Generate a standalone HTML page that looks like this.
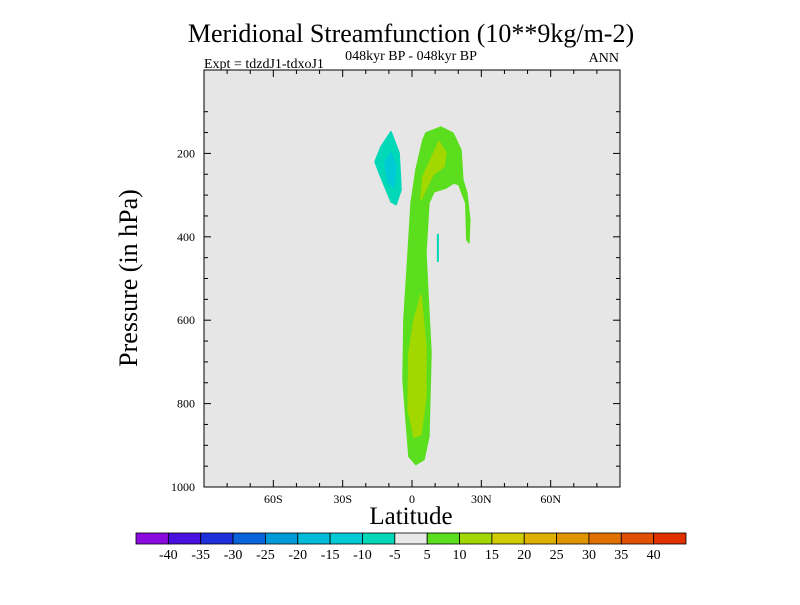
<!DOCTYPE html>
<html><head><meta charset="utf-8"><style>
body{margin:0;background:#fff;}
text{font-family:"Liberation Serif",serif;fill:#000;}
</style></head><body>
<svg id="chart" width="800" height="600" xmlns="http://www.w3.org/2000/svg">
<text x="411" y="42" font-size="26" text-anchor="middle">Meridional Streamfunction (10**9kg/m-2)</text>
<text x="411" y="60" font-size="14" text-anchor="middle">048kyr BP - 048kyr BP</text>
<text x="204" y="68" font-size="14">Expt = tdzdJ1-tdxoJ1</text>
<text x="619" y="62" font-size="14" text-anchor="end">ANN</text>
<rect x="204" y="70" width="416" height="417" fill="#e6e6e6"/>
<g id="marks"></g>
<rect x="204" y="70" width="416" height="417" fill="none" stroke="#000" stroke-width="1"/>
<g id="axes"></g>
<text transform="translate(137,278) rotate(-90)" font-size="26" text-anchor="middle">Pressure (in hPa)</text>
<text x="411" y="524" font-size="25" text-anchor="middle">Latitude</text>
<g id="colorbar"></g>
</svg>
<script>
const yTicks=[200,400,600,800,1000];
const xTicks=[-60,-30,0,30,60];
const xTickLabels=["60S","30S","0","30N","60N"];
const cbLabels=[-40,-35,-30,-25,-20,-15,-10,-5,5,10,15,20,25,30,35,40];
const cbColors=["#8a0ae0","#4a10e0","#1e30dc","#0a64dc","#009ad8","#00bcd8","#00cad6","#00d8b8","#e8e8e8","#5ade1e","#a2d800","#d0cc00","#e0b000","#e09400","#e07000","#e05000","#e03000"];
const greenLat=[6.0,12.5,17.7,21.2,22.0,23.7,25.0,24.6,23.7,23.3,20.3,18.1,14.7,9.5,7.3,6.0,6.9,8.2,7.3,5.2,1.7,-1.3,-2.6,-3.9,-3.5,-1.7,-0.4,1.7,4.7];
const greenP=[151,137,151,192,263,295,359,414,407,319,275,271,283,292,319,438,534,678,879,934,946,927,838,742,599,438,319,240,168];
const yel1Lat=[11.7,14.7,13.8,9.1,3.9,4.7];
const yel1P=[172,199,232,251,311,256];
const yel2Lat=[3.9,6.0,6.0,3.9,0.9,-1.7,-1.3,0.9];
const yel2P=[539,663,783,874,881,814,678,599];
const cyanLat=[-9.1,-5.6,-4.7,-6.9,-9.1,-14.2,-16.0,-13.4];
const cyanP=[148,199,287,323,316,247,220,184];
const cyan2Lat=[-9.1,-6.9,-7.8,-10.4,-11.7];
const cyan2P=[199,232,280,271,223];
const lineLat=[11.2,11.2];
const lineP=[393,460];

const NS="http://www.w3.org/2000/svg";
const X=lat=>204+(lat+90)/180*416;
const Y=p=>70+p/1000*417;
function mk(tag,attrs,parent){const e=document.createElementNS(NS,tag);for(const k in attrs)e.setAttribute(k,attrs[k]);parent.appendChild(e);return e;}
const marks=document.getElementById('marks');
function poly(lats,ps,fill,name){
  const pts=lats.map((l,i)=>X(l).toFixed(1)+","+Y(ps[i]).toFixed(1)).join(" ");
  const e=mk('polygon',{points:pts,fill:fill,stroke:fill,"stroke-width":1.5,"stroke-linejoin":"round"},marks);
  
  
}
poly(greenLat,greenP,"#5ade1e","contour-5-10");
poly(yel1Lat,yel1P,"#a2d800","contour-10-15-upper");
poly(yel2Lat,yel2P,"#a2d800","contour-10-15-lower");
poly(cyanLat,cyanP,"#00d8b8","contour-neg5-neg10");
poly(cyan2Lat,cyan2P,"#00cad6","contour-neg10-neg15");
const ln=mk('line',{x1:X(lineLat[0]),y1:Y(lineP[0]),x2:X(lineLat[1]),y2:Y(lineP[1]),stroke:"#00d8b8","stroke-width":2},marks);



const axes=document.getElementById('axes');
for(let p=100;p<=1000;p+=50){
  const major=p%200===0;const len=major?7:4;
  mk('line',{x1:204,x2:204+len,y1:Y(p),y2:Y(p),stroke:"#000"},axes);
  mk('line',{x1:620,x2:620-len,y1:Y(p),y2:Y(p),stroke:"#000"},axes);
}
yTicks.forEach(p=>{
  const t=mk('text',{x:195,y:Y(p)+4,"font-size":12,"text-anchor":"end"},axes);
  t.textContent=p;
  
  
});
for(let l=-80;l<=80;l+=10){
  const major=l%30===0;const len=major?7:4;
  mk('line',{x1:X(l),x2:X(l),y1:487,y2:487-len,stroke:"#000"},axes);
  mk('line',{x1:X(l),x2:X(l),y1:70,y2:70+len,stroke:"#000"},axes);
}
xTicks.forEach((l,i)=>{
  const t=mk('text',{x:X(l),y:503,"font-size":12,"text-anchor":"middle"},axes);
  t.textContent=xTickLabels[i];
  
  
});

const cb=document.getElementById('colorbar');
const cbx=136,cbw=550/cbColors.length;
cbColors.forEach((c,i)=>{
  const r=mk('rect',{x:cbx+i*cbw,y:533,width:cbw,height:11,fill:c,stroke:"#000","stroke-width":0.8},cb);
  
  
});
cbLabels.forEach((v,i)=>{
  const t=mk('text',{x:cbx+(i+1)*cbw,y:559,"font-size":14,"text-anchor":"middle"},cb);
  t.textContent=v;
  
  
});
</script>
</body></html>
